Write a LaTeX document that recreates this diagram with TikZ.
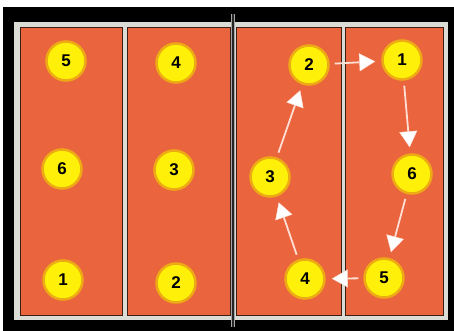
\documentclass[tikz,border=0pt]{standalone}
\usepackage{fontspec}
\setmainfont{Liberation Sans}
\usetikzlibrary{arrows.meta}

\definecolor{court}{RGB}{234,100,62}
\definecolor{ballyellow}{RGB}{255,240,10}
\definecolor{ballrim}{RGB}{238,170,20}
\definecolor{courtline}{RGB}{220,220,215}
\definecolor{panelline}{RGB}{60,30,20}
\definecolor{arrowpink}{RGB}{255,222,212}

\begin{document}
\begin{tikzpicture}[
x=1pt, y=-1pt,
panel/.style={
fill=court,
draw=panelline,
line width=1pt
},
player/.style={
circle,
fill=ballyellow,
draw=ballrim,
line width=2.5pt,
minimum size=39pt,
inner sep=0pt,
font=\bfseries\fontsize{17}{17}\selectfont
},
move/.style={
-{Triangle[length=16pt,width=18pt,fill=white,line width=0.5pt]},
draw=arrowpink,
line width=1.8pt,
shorten <=5pt,
shorten >=6pt
}
]
\useasboundingbox (0,0) rectangle (454,331);
\fill[white] (0,0) rectangle (454,331);
\fill[black] (3,7) rectangle (454,331);

% court outline
\draw[courtline, line width=2pt] (15,23) rectangle (447,319);
\fill[courtline] (16,24) rectangle (446,318);

% zones
\draw[panel] (20,28) rectangle (122,315);
\draw[panel] (127,28) rectangle (230,315);
\draw[panel] (236,28) rectangle (341,315);
\draw[panel] (345,28) rectangle (443,315);

% net
\draw[gray!70, line width=3.5pt] (233,14) -- (233,327);
\draw[black!85, line width=1.5pt] (233,14) -- (233,327);

% left team
\node (a5) [player] at (66,61) {5};
\node (a4) [player] at (176,63) {4};
\node (a6) [player] at (62,169) {6};
\node (a3) [player] at (174,170) {3};
\node (a1) [player] at (63,280) {1};
\node (a2) [player] at (176,283) {2};

% right team
\node (b2) [player] at (309,65) {2};
\node (b1) [player] at (402,60) {1};
\node (b3) [player] at (270,177) {3};
\node (b6) [player] at (412,174) {6};
\node (b4) [player] at (305,279) {4};
\node (b5) [player] at (384,278) {5};

% rotation
\draw [move] (b2) -- (b1);
\draw [move] (b1) -- (b6);
\draw [move] (b6) -- (b5);
\draw [move] (b5) -- (b4);
\draw [move] (b4) -- (b3);
\draw [move] (b3) -- (b2);

\end{tikzpicture}
\end{document}
